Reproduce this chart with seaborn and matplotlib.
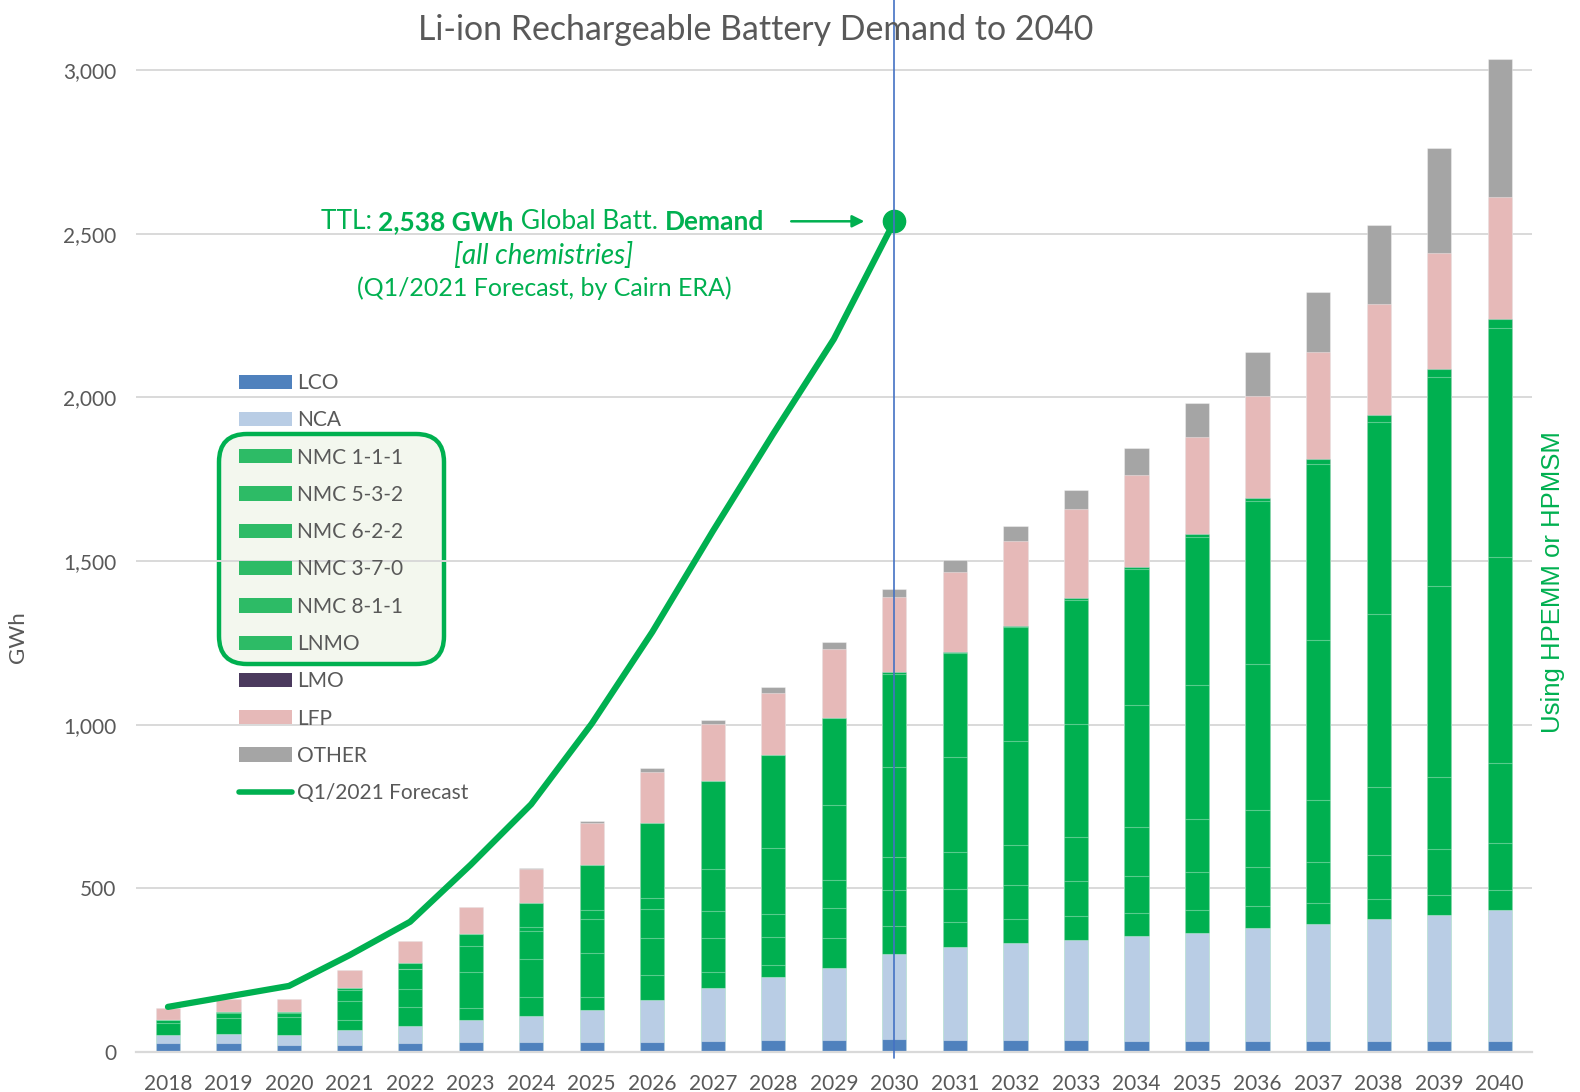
import numpy as np
import matplotlib
matplotlib.use("Agg")
import matplotlib.pyplot as plt
import seaborn as sns
from matplotlib.patches import Patch, FancyBboxPatch
from matplotlib.lines import Line2D
from matplotlib.transforms import IdentityTransform

# --- DATA (GWh) ---
YEARS = [str(y) for y in range(2018, 2041)]

LCO = [28, 28, 20, 22, 28, 31, 30, 30, 30, 34, 36, 38, 39, 38, 37, 37, 34, 34, 34, 34, 33, 33, 33]
NCA = [23, 26, 31, 46, 51, 68, 79, 98, 130, 162, 194, 219, 261, 282, 295, 305, 320, 331, 344, 357, 372, 387, 402]
NMC_111 = [39, 50, 56, 29, 60, 37, 60, 41, 74, 47, 35, 90, 84, 78, 75, 74, 70, 69, 68, 64, 62, 61, 59]
NMC_532 = [7, 15, 12, 58, 55, 109, 114, 135, 113, 104, 85, 92, 111, 100, 104, 106, 114, 116, 119, 126, 134, 138, 144]
NMC_622 = [2, 3, 3, 34, 59, 78, 86, 101, 89, 85, 72, 87, 102, 114, 121, 135, 148, 162, 175, 190, 208, 222, 245]
NMC_370 = [0, 0, 0, 8, 0, 39, 12, 29, 36, 128, 200, 228, 273, 288, 317, 344, 374, 410, 444, 489, 528, 583, 630]
NMC_811 = [0, 0, 0, 0, 19, 0, 73, 137, 229, 267, 284, 266, 286, 319, 349, 381, 415, 452, 498, 537, 587, 638, 698]
LNMO = [0, 0, 0, 0, 0, 0, 0, 0, 0, 0, 0, 0, 5, 4, 5, 5, 8, 10, 12, 16, 23, 26, 29]
LMO = [0] * 23
LFP = [37, 41, 41, 55, 67, 82, 104, 128, 156, 175, 191, 210, 229, 243, 257, 271, 280, 295, 309, 325, 338, 353, 373]
OTHER = [0, 0, 0, 0, 0, 0, 4, 7, 10, 13, 17, 23, 26, 36, 46, 59, 82, 105, 135, 183, 242, 321, 422]

FORECAST_YEARS = list(range(0, 13))  # 2018..2030 as category positions
FORECAST = [138, 170, 202, 296, 398, 572, 757, 1003, 1283, 1591, 1889, 2178, 2538]

LABELS = ["LCO", "NCA", "NMC 1-1-1", "NMC 5-3-2", "NMC 6-2-2", "NMC 3-7-0",
          "NMC 8-1-1", "LNMO", "LMO", "LFP", "OTHER"]
SERIES = [LCO, NCA, NMC_111, NMC_532, NMC_622, NMC_370, NMC_811, LNMO, LMO, LFP, OTHER]

GREEN = "#00B050"
GREY_TXT = "#595959"
COLORS = ["#4F81BD", "#B9CDE5", GREEN, GREEN, GREEN, GREEN, GREEN, GREEN,
          "#4B3A5E", "#E6B9B8", "#A5A5A5"]

sns.set_theme(style="white")
plt.rcParams['font.family'] = ['Lato', 'DejaVu Sans']

fig = plt.figure(figsize=(15.8, 10.92), dpi=100)
ax = fig.add_axes([0.086, 0.0366, 0.8835, 0.9292])

# stacked bars: draw cumulative totals from the top layer down
cum = np.cumsum(np.array(SERIES, dtype=float), axis=0)
for i in range(len(SERIES) - 1, -1, -1):
    sns.barplot(x=YEARS, y=cum[i], color=COLORS[i], saturation=1, width=0.4,
                edgecolor=(1, 1, 1, 0.35), linewidth=0.8, ax=ax)

sns.lineplot(x=FORECAST_YEARS, y=FORECAST, color=GREEN, linewidth=4.5, ax=ax,
             solid_capstyle="round", zorder=4)
ax.plot(12, FORECAST[-1], "o", color=GREEN, markersize=16, zorder=5)

ax.axvline(12, ymin=-0.006, ymax=1.04, color="#4472C4", lw=1.2, clip_on=False, zorder=6)

ax.set_xlim(-0.53, 22.53)
ax.set_ylim(0, 3100)
ax.set_yticks(range(0, 3001, 500))
ax.set_yticklabels([f"{v:,}" for v in range(0, 3001, 500)])
ax.yaxis.grid(True, color="#D9D9D9", lw=1.4)
ax.set_axisbelow(True)
for s in ["top", "right", "left"]:
    ax.spines[s].set_visible(False)
ax.spines["bottom"].set_color("#D9D9D9")
ax.spines["bottom"].set_linewidth(1.6)
ax.tick_params(axis="both", length=0, labelsize=15, labelcolor=GREY_TXT)
ax.tick_params(axis="y", pad=14)
ax.tick_params(axis="x", pad=16)
ax.set_xlabel("")
ax.set_ylabel("GWh", fontsize=16, color=GREY_TXT)
ax.yaxis.set_label_coords(-0.077, 0.409)

# rounded box behind the NMC legend entries
box = FancyBboxPatch((219, 1092 - 664), 225, 230, boxstyle="round,pad=0,rounding_size=28",
                     transform=IdentityTransform(), facecolor="#F3F7EE", edgecolor=GREEN,
                     linewidth=3.2, zorder=0.4)
ax.add_patch(box)

handles = [Patch(facecolor=c if c != GREEN else "#2DBB66", edgecolor="none", label=l)
           for c, l in zip(COLORS, LABELS)]
handles.append(Line2D([], [], color=GREEN, lw=4, solid_capstyle="round", label="Q1/2021 Forecast"))
leg = ax.legend(handles=handles, loc="upper left", bbox_to_anchor=(239 / 1580, 1 - 373 / 1092),
                bbox_transform=fig.transFigure, frameon=False, fontsize=15,
                handlelength=2.55, handleheight=0.68, handletextpad=0.25,
                labelspacing=0.83, borderpad=0, borderaxespad=0)
for t in leg.get_texts():
    t.set_color(GREY_TXT)

# annotation
t1 = ax.text(2.52, 2538, "TTL: ", color=GREEN, fontsize=19, va="center")
t2 = ax.annotate("2,538 GWh", xy=(1, 0), xycoords=t1, va="bottom", ha="left",
                 color=GREEN, fontsize=19, fontweight="bold")
t3 = ax.annotate(" Global Batt. ", xy=(1, 0), xycoords=t2, va="bottom", ha="left",
                 color=GREEN, fontsize=19)
t4 = ax.annotate("Demand", xy=(1, 0), xycoords=t3, va="bottom", ha="left",
                 color=GREEN, fontsize=19, fontweight="bold")
ax.text(6.21, 2435, "[all chemistries]", ha="center", va="center", color=GREEN,
        fontsize=20, fontstyle="italic")
ax.text(6.21, 2334, "(Q1/2021 Forecast, by Cairn ERA)", ha="center", va="center",
        color=GREEN, fontsize=18)
ax.annotate("", xy=(11.55, 2538), xytext=(10.25, 2538),
            arrowprops=dict(arrowstyle="-|>", color=GREEN, lw=1.8, mutation_scale=18))

fig.text(756 / 1580, 1 - 30 / 1092, "Li-ion Rechargeable Battery Demand to 2040",
         ha="center", va="center", fontsize=24.4, color=GREY_TXT)
fig.text(1553 / 1580, 1 - 582 / 1092, "Using HPEMM or HPMSM", rotation=90,
         ha="center", va="center", fontsize=18.5, color=GREEN,
         family=["Liberation Sans", "DejaVu Sans"])

fig.savefig("out.png", dpi=100)
